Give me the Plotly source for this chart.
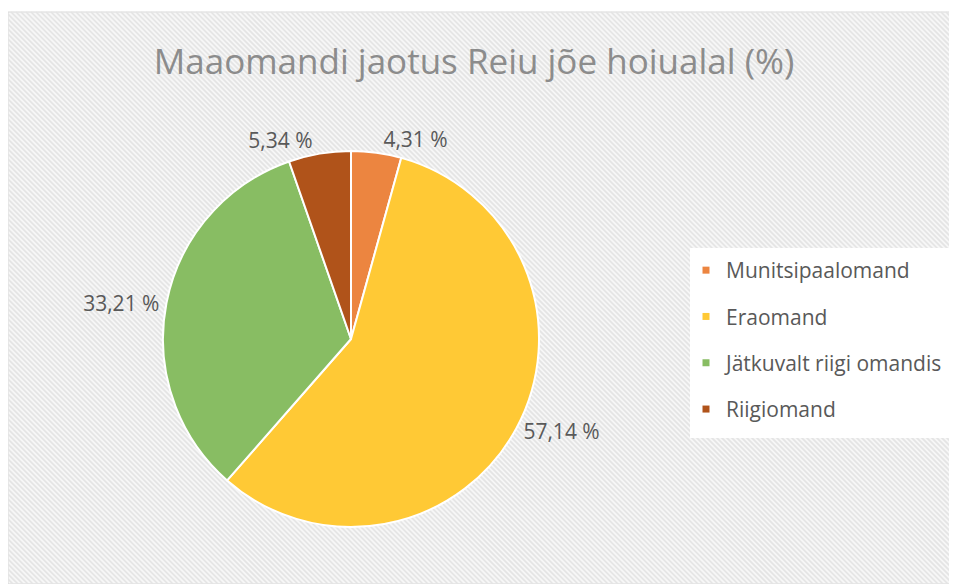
import plotly.graph_objects as go

categories = ["Munitsipaalomand", "Eraomand", "Jätkuvalt riigi omandis", "Riigiomand"]
values = [4.31, 57.14, 33.21, 5.34]
colors = ["#EC8540", "#FFC935", "#88BD63", "#B0531A"]
title_text = "Maaomandi jaotus Reiu jõe hoiualal (%)"

# page puts the plot at an 8px body margin
OFF = 8
W, H = 957 - OFF, 584 - OFF


def px(x):
    return (x - OFF) / W


def py(y):
    return 1 - (y - OFF) / H


labels_txt = [f"{v:.2f}".replace(".", ",") + " %" for v in values]

fig = go.Figure()
fig.add_trace(go.Pie(
    labels=categories, values=values, text=labels_txt,
    texttemplate="%{text}", textposition="outside",
    textfont=dict(size=21, color="#595959", family="Open Sans"),
    marker=dict(colors=colors, line=dict(color="white", width=2)),
    sort=False, direction="clockwise", rotation=0,
    domain=dict(x=[px(163), px(539)], y=[py(527), py(151)]),
    showlegend=False, hoverinfo="label+percent",
))

for c, col in zip(categories, colors):
    fig.add_trace(go.Scatter(
        x=[None], y=[None], mode="markers", name=c, legendgroup=c,
        marker=dict(symbol="square", size=7, color=col),
    ))

# background frame and hatch (pixel coords of the figure)
X0, Y0, X1, Y1 = 0, 12 - OFF, W, H
shapes = [dict(type="rect", xref="paper", yref="paper", x0=X0 / W, x1=1, y0=0, y1=1 - Y0 / H,
               fillcolor="#f6f6f6", line=dict(color="#d9d9d9", width=1), layer="below")]
step = 5
c = X0 - (Y1 - Y0)
while c < X1:
    ya, yb = Y0, Y1
    xa, xb = c, c + (Y1 - Y0)
    if xa < X0:
        ya = Y0 + (X0 - xa); xa = X0
    if xb > X1:
        yb = Y1 - (xb - X1); xb = X1
    if ya < yb:
        shapes.append(dict(type="line", xref="paper", yref="paper",
                           x0=xa / W, x1=xb / W, y0=1 - ya / H, y1=1 - yb / H,
                           line=dict(color="#e4e4e4", width=1.6), layer="below"))
    c += step

# legend panel
shapes.append(dict(type="rect", xref="paper", yref="paper", x0=px(690), x1=1.0,
                   y0=py(438), y1=py(248), fillcolor="white", line=dict(width=0), layer="below"))

fig.update_layout(
    width=W, height=H,
    margin=dict(l=0, r=0, t=0, b=0),
    paper_bgcolor="white", plot_bgcolor="rgba(0,0,0,0)",
    shapes=shapes,
    title=dict(text=title_text, x=px(474), xanchor="center", y=py(62), yanchor="middle",
               font=dict(family="Open Sans", size=35, color="#8c8c8c")),
    xaxis=dict(visible=False), yaxis=dict(visible=False),
    legend=dict(x=px(686), y=py(250), xanchor="left", yanchor="top",
                bgcolor="rgba(0,0,0,0)", font=dict(family="Open Sans", size=21, color="#595959"),
                tracegroupgap=16, itemwidth=30),
)

fig.write_html("out.html")
